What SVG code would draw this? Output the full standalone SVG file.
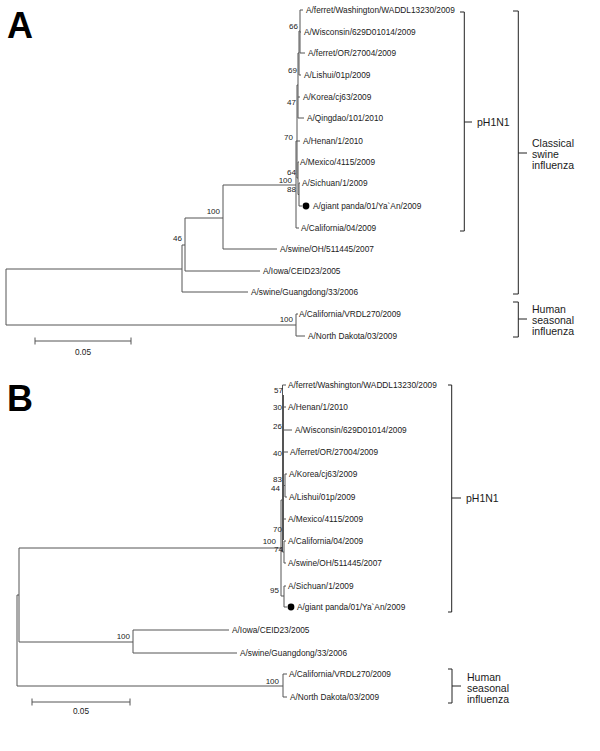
<svg xmlns="http://www.w3.org/2000/svg" width="600" height="751" viewBox="0 0 600 751">
<style>
text{font-family:"Liberation Sans",Arial,sans-serif;fill:#1a1a1a}
.leaf{font-size:8.3px}
.bs{font-size:8px;text-anchor:end}
.grp{font-size:10.5px}
.panel{font-size:36px;font-weight:bold;fill:#000}
.br path,.tree path{fill:none;stroke:#555;stroke-width:1}
.br path{stroke:#222}
</style>
<rect width="600" height="751" fill="#fff"/>
<text class="panel" x="7" y="38">A</text>
<text class="panel" x="7" y="411">B</text>

<g id="connectors" class="tree">
<!-- Panel A -->
<path d="M6,269V325M6,269H182M182,245V292M182,292H248M182,245H185M185,218V271M185,271H260M185,218H223M223,185V249M223,249H277M223,185H296"/>
<path d="M296,141V228M296,228H299M296,141H297M297,85V178M297,141H300M297,178H298M298,162V194.5M298,162H299M298,194.5H299M299,183V206M299,183H300M299,206H302"/>
<path d="M297,85H298M298,53V118M298,97H300M298,118H304M298,53H299M299,31V75M299,75H301M299,31H300M300,10V53M300,10H303M300,32H301M300,53H305"/>
<path d="M6,325H296M296,314V336M296,314H298M296,336H305"/>
<!-- scale A -->
<path d="M35,341H131M35,337.5V344.5M131,337.5V344.5"/>
<!-- Panel B -->
<path d="M17,595V686M17,595H19M19,548V642M19,548H281M19,642H133M133,630V653M133,630H229M133,653H237M17,686H283M283,674V697M283,674H287M283,697H287"/>
<path d="M281,500V596M281,596H284M284,586V607M284,586H286M284,607H287M281,500H282.5"/>
<path d="M282.5,385V552M283.5,395V540M282.5,385H286M282.5,407H286M282.5,430H292M282.5,452H288M282.5,485.5H285M285,474V497M285,474H287M285,497H287M282.5,519H286M282.5,552H284M284,541V563M284,541H286M284,563H286"/>
<!-- scale B -->
<path d="M32,702H130M32,698.5V705.5M130,698.5V705.5"/>
</g>

<g id="leaves-A" class="leaf">
<text x="306" y="13">A/ferret/Washington/WADDL13230/2009</text>
<text x="304" y="35">A/Wisconsin/629D01014/2009</text>
<text x="308" y="56">A/ferret/OR/27004/2009</text>
<text x="304" y="78">A/Lishui/01p/2009</text>
<text x="303" y="100">A/Korea/cj63/2009</text>
<text x="307" y="121">A/Qingdao/101/2010</text>
<text x="303" y="144">A/Henan/1/2010</text>
<text x="300" y="165">A/Mexico/4115/2009</text>
<text x="302" y="186">A/Sichuan/1/2009</text>
<g id="panda-A"><circle cx="306" cy="206" r="3.4" fill="#000"/><text x="313" y="209">A/giant panda/01/Ya`An/2009</text></g>
<text x="301" y="231">A/California/04/2009</text>
<text x="280" y="252">A/swine/OH/511445/2007</text>
<text x="263" y="274">A/Iowa/CEID23/2005</text>
<text x="251" y="295">A/swine/Guangdong/33/2006</text>
<text x="299" y="317">A/California/VRDL270/2009</text>
<text x="308" y="339">A/North Dakota/03/2009</text>
</g>

<g id="bootstrap-A" class="bs">
<text x="298" y="29">66</text>
<text x="297" y="73">69</text>
<text x="296" y="105">47</text>
<text x="293" y="140">70</text>
<text x="296" y="175">64</text>
<text x="292" y="183">100</text>
<text x="296" y="192">88</text>
<text x="220" y="214">100</text>
<text x="182" y="241">46</text>
<text x="293" y="322">100</text>
</g>

<text id="scale-A" x="83" y="355" font-size="8.3" text-anchor="middle">0.05</text>

<g id="bracket-pH1N1-A" class="br">
<path d="M460,12H464.3V231H460M464.3,122H472"/>
<text class="grp" x="477" y="126">pH1N1</text>
</g>
<g id="bracket-classical-A" class="br">
<path d="M513,11H518.3V294H513M518.3,153H527"/>
<text class="grp" x="532" y="147">Classical</text>
<text class="grp" x="532" y="158">swine</text>
<text class="grp" x="532" y="168.5">influenza</text>
</g>
<g id="bracket-human-A" class="br">
<path d="M513,302H518.3V337H513M518.3,319H527"/>
<text class="grp" x="532" y="313">Human</text>
<text class="grp" x="532" y="324">seasonal</text>
<text class="grp" x="532" y="335">influenza</text>
</g>

<g id="leaves-B" class="leaf">
<text x="288" y="388">A/ferret/Washington/WADDL13230/2009</text>
<text x="288" y="410">A/Henan/1/2010</text>
<text x="295" y="433">A/Wisconsin/629D01014/2009</text>
<text x="290" y="455">A/ferret/OR/27004/2009</text>
<text x="289" y="477">A/Korea/cj63/2009</text>
<text x="289" y="500">A/Lishui/01p/2009</text>
<text x="288" y="522">A/Mexico/4115/2009</text>
<text x="288" y="544">A/California/04/2009</text>
<text x="288" y="566">A/swine/OH/511445/2007</text>
<text x="288" y="589">A/Sichuan/1/2009</text>
<g id="panda-B"><circle cx="291" cy="607" r="3.4" fill="#000"/><text x="297" y="610">A/giant panda/01/Ya`An/2009</text></g>
<text x="232" y="633">A/Iowa/CEID23/2005</text>
<text x="240" y="656">A/swine/Guangdong/33/2006</text>
<text x="289" y="677">A/California/VRDL270/2009</text>
<text x="290" y="700">A/North Dakota/03/2009</text>
</g>

<g id="bootstrap-B" class="bs">
<text x="283" y="393">57</text>
<text x="282" y="410">30</text>
<text x="282" y="429">26</text>
<text x="282" y="456">40</text>
<text x="282" y="482">83</text>
<text x="280" y="491">44</text>
<text x="282" y="532">70</text>
<text x="276" y="543.5">100</text>
<text x="283" y="551.5">74</text>
<text x="279" y="593">95</text>
<text x="130" y="639">100</text>
<text x="279" y="684">100</text>
</g>

<text id="scale-B" x="81" y="714" font-size="8.3" text-anchor="middle">0.05</text>

<g id="bracket-pH1N1-B" class="br">
<path d="M448,385H451.7V612H448M451.7,498H461"/>
<text class="grp" x="466" y="502">pH1N1</text>
</g>
<g id="bracket-human-B" class="br">
<path d="M448,669H452V703H448M452,686H461"/>
<text class="grp" x="467" y="681">Human</text>
<text class="grp" x="467" y="692">seasonal</text>
<text class="grp" x="467" y="703">influenza</text>
</g>
</svg>
